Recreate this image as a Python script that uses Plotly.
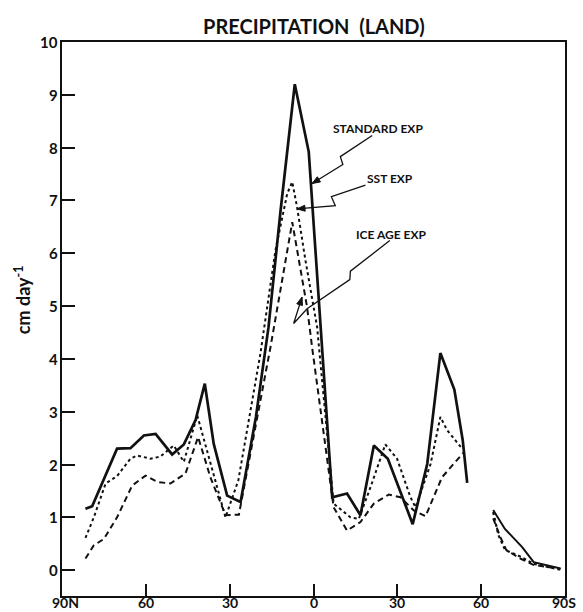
import math
import plotly.graph_objects as go

# ---------------- data (latitude in degrees, +N / -S) ----------------
std_lat_1 = [81.6, 79.2, 70.3, 65.5, 60.7, 56.5, 50.6, 46.4, 42.2, 38.9, 35.7, 30.9, 26.1,
             20.6, 16.1, 11.8, 6.7, 1.7, -6.7, -12.0, -16.8, -21.6, -26.6, -35.5,
             -40.7, -45.4, -50.4, -53.4, -55.0]
std_val_1 = [1.16, 1.21, 2.30, 2.31, 2.55, 2.58, 2.19, 2.38, 2.84, 3.53, 2.39, 1.41, 1.29,
             2.9, 4.6, 6.8, 9.2, 7.92, 1.38, 1.45, 1.04, 2.36, 2.11, 0.87,
             2.01, 4.11, 3.42, 2.46, 1.65]
std_lat_2 = [-64.3, -68.5, -74.6, -78.8, -88.4]
std_val_2 = [1.14, 0.78, 0.44, 0.15, 0.03]

sst_lat_1 = [81.6, 78.6, 74.4, 70.3, 65.5, 63.1, 58.3, 54.8, 50.0, 46.4, 41.6, 31.5, 26.9,
             19.0, 13.6, 9.4, 7.6, 5.9, 2.9, -1.3, -7.2, -13.2, -16.2, -20.4, -25.7,
             -29.9, -34.7, -36.5, -41.9, -45.4, -47.8, -53.2]
sst_val_1 = [0.61, 1.0, 1.64, 1.78, 2.11, 2.17, 2.11, 2.15, 2.36, 2.05, 2.93, 1.0, 1.70,
             4.1, 6.06, 7.13, 7.35, 6.88, 5.87, 4.6, 1.26, 1.0, 0.97, 1.57, 2.38,
             2.11, 1.38, 1.19, 2.01, 2.9, 2.65, 2.30]
sst_lat_2 = [-64.3, -66.2, -68.6, -73.9, -78.7, -88.2]
sst_val_2 = [1.10, 0.66, 0.38, 0.26, 0.12, 0.01]

ice_lat_1 = [81.6, 78.6, 75.0, 70.3, 64.9, 60.1, 55.9, 51.2, 45.8, 41.3, 36.9, 31.5, 26.7,
             15.4, 7.6, 5.9, 4.1, 2.3, 0.5, -7.2, -12.0, -16.8, -21.6, -26.9, -31.1,
             -35.9, -40.1, -46.0, -53.8]
ice_val_1 = [0.22, 0.47, 0.59, 1.0, 1.6, 1.79, 1.67, 1.64, 1.83, 2.52, 1.76, 1.04, 1.05,
             4.22, 6.59, 6.05, 5.49, 4.98, 4.22, 1.19, 0.75, 0.91, 1.26, 1.43, 1.38,
             1.13, 1.02, 1.76, 2.23]
ice_lat_2 = [-64.3, -66.9, -69.0, -74.0, -78.7, -88.4]
ice_val_2 = [0.98, 0.62, 0.38, 0.22, 0.10, 0.02]

x_tick_vals = [90, 60, 30, 0, -30, -60, -90]
x_tick_text = ["90N", "60", "30", "0", "30", "60", "90S"]
y_tick_vals = list(range(0, 11))

title_text = "PRECIPITATION&nbsp;&nbsp;(LAND)"
y_title = "cm day<sup>-1</sup>"
labels = ["STANDARD EXP", "SST EXP", "ICE AGE EXP"]

FONT = "Lato"
BLACK = "#111111"

W, H = 583, 612
ML, MR, MT, MB = 62, 18, 42, 16
X_RANGE = [90, -90]
Y_RANGE = [-0.49, 10]
PX_X = (W - ML - MR) / (X_RANGE[1] - X_RANGE[0])   # px per degree (negative: reversed)
PX_Y = (H - MT - MB) / (Y_RANGE[1] - Y_RANGE[0])   # px per unit

fig = go.Figure()

def add_series(lat, val, dash, width):
    fig.add_trace(go.Scatter(x=lat, y=val, mode="lines",
                             line=dict(color=BLACK, width=width, dash=dash),
                             showlegend=False, hoverinfo="skip"))

add_series(std_lat_1, std_val_1, "solid", 2.7)
add_series(std_lat_2, std_val_2, "solid", 2.0)
add_series(sst_lat_1, sst_val_1, "dot", 2.0)
add_series(sst_lat_2, sst_val_2, "dot", 2.2)
add_series(ice_lat_1, ice_val_1, "6px,4px", 2.0)
add_series(ice_lat_2, ice_val_2, "6px,4px", 2.0)

# label positions and lightning-style leader lines (last point = arrow tip)
label_pos = [(-23.1, 8.37), (-27.5, 7.42), (-27.9, 6.35)]
arrows = [
    [(-21.0, 8.23), (-9.6, 7.83), (-10.5, 7.68), (0.5, 7.32)],
    [(-18.6, 7.29), (-6.4, 7.07), (-7.8, 6.90), (5.9, 6.84)],
    [(-27.3, 6.24), (-13.2, 5.66), (-13.0, 5.50), (2.3, 4.95), (7.1, 4.67), (4.1, 5.17)],
]

for txt, (lx, ly) in zip(labels, label_pos):
    fig.add_annotation(x=lx, y=ly, xref="x", yref="y", text=txt, showarrow=False,
                       font=dict(family=FONT, size=12, color=BLACK, weight="bold"))

def head(p_from, p_to, length=8.0, half=3.0):
    # triangle arrowhead at p_to, computed in pixel space then mapped back
    dxp = (p_to[0] - p_from[0]) * PX_X
    dyp = (p_to[1] - p_from[1]) * PX_Y
    n = math.hypot(dxp, dyp)
    ux, uy = dxp / n, dyp / n
    bx, by = -ux * length, -uy * length
    nx, ny = -uy * half, ux * half
    pts = [(0, 0), (bx + nx, by + ny), (bx - nx, by - ny)]
    return [(p_to[0] + a / PX_X, p_to[1] + b / PX_Y) for a, b in pts]

for pts in arrows:
    fig.add_shape(type="path", xref="x", yref="y",
                  path="M " + " L ".join(f"{a},{b}" for a, b in pts),
                  line=dict(color=BLACK, width=1.3))
    tri = head(pts[-2], pts[-1])
    fig.add_shape(type="path", xref="x", yref="y",
                  path="M " + " L ".join(f"{a},{b}" for a, b in tri) + " Z",
                  line=dict(color=BLACK, width=1), fillcolor=BLACK)

# title
fig.add_annotation(x=0.5, y=1, xref="paper", yref="paper", yshift=16,
                   text=title_text, showarrow=False, yanchor="middle",
                   font=dict(family=FONT, size=20, color=BLACK, weight="bold"))

# y-axis title
fig.add_annotation(x=0, y=0.534, xref="paper", yref="paper", xshift=-39, xanchor="center",
                   yanchor="middle",
                   text=y_title, showarrow=False, textangle=-90,
                   font=dict(family=FONT, size=18, color=BLACK, weight="bold"))

# tick labels as text
for v, t in zip(x_tick_vals, x_tick_text):
    shift = 3 if t == "90N" else (-1 if t == "90S" else 0)
    fig.add_annotation(x=v, y=0, xref="x", yref="paper", yshift=-MB, xshift=shift,
                       yanchor="bottom", borderpad=0, text=t, showarrow=False,
                       font=dict(family=FONT, size=14, color=BLACK, weight="bold"))
for v in y_tick_vals:
    fig.add_annotation(x=0, y=v, xref="paper", yref="y", xanchor="right", xshift=-2,
                       text=str(v), showarrow=False,
                       font=dict(family=FONT, size=15, color=BLACK, weight="bold"))

fig.update_layout(
    width=W, height=H,
    margin=dict(l=ML, r=MR, t=MT, b=MB),
    paper_bgcolor="white", plot_bgcolor="white",
    xaxis=dict(range=X_RANGE, tickvals=x_tick_vals, showticklabels=False,
               ticks="inside", ticklen=12, tickwidth=1.5, tickcolor=BLACK,
               showline=True, linewidth=2, linecolor=BLACK, mirror=True,
               showgrid=False, zeroline=False, automargin=False),
    yaxis=dict(range=Y_RANGE, tickvals=y_tick_vals, showticklabels=False,
               ticks="inside", ticklen=13, tickwidth=1.5, tickcolor=BLACK,
               showline=True, linewidth=2, linecolor=BLACK, mirror=True,
               showgrid=False, zeroline=False, automargin=False),
)

fig.write_html("out.html")
